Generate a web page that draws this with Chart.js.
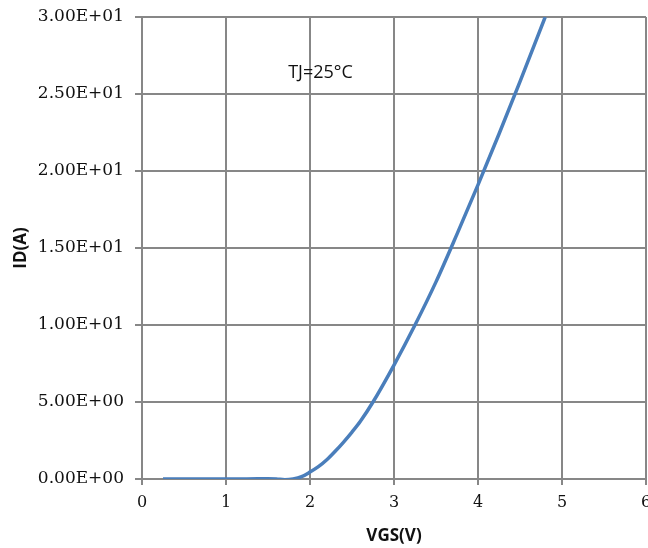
<!DOCTYPE html>
<html>
<head>
<meta charset="utf-8">
<script src="https://cdn.jsdelivr.net/npm/chart.js@4"></script>
<style>
  html, body { margin: 0; padding: 0; background: #fff; }
  #wrap { width: 648px; height: 548px; position: relative; }
</style>
</head>
<body>
<div id="wrap"><canvas id="idChart"></canvas></div>
<script>
// ID vs VGS transfer curve, TJ = 25°C
const vgs = [0.25, 0.5, 0.75, 1.0, 1.25, 1.5, 1.6, 1.7, 1.8, 1.9, 2.0, 2.1, 2.2, 2.3, 2.4, 2.5, 2.6, 2.75, 3.0, 3.25, 3.5, 3.75, 4.0, 4.25, 4.5, 4.8];
const id  = [0, 0, 0, 0, 0, 0.02, 0, -0.05, 0, 0.15, 0.45, 0.8, 1.25, 1.8, 2.4, 3.05, 3.75, 5.0, 7.4, 10.0, 12.8, 15.9, 19.1, 22.4, 25.8, 30.0];
const noteText = 'TJ=25°C';
const notePos = { x: 1.74, y: 26.4 };

const gridColor = '#878787';

function sci(v) {
    const [m, e] = v.toExponential(2).split('e');
    const sign = e[0] === '-' ? '-' : '+';
    const digits = e.replace(/[+-]/, '').padStart(2, '0');
    return m + 'E' + sign + digits;
}

// draws the "TJ=25°C" label inside the plot
const notePlugin = {
    id: 'note',
    afterDraw(chart) {
        const { ctx, scales } = chart;
        ctx.save();
        ctx.font = '18px "Open Sans", sans-serif';
        ctx.fillStyle = '#111';
        ctx.textBaseline = 'middle';
        ctx.fillText(noteText, scales.x.getPixelForValue(notePos.x), scales.y.getPixelForValue(notePos.y));
        ctx.restore();
    }
};

new Chart(document.getElementById('idChart'), {
    type: 'line',
    data: {
        datasets: [{
            data: vgs.map((x, i) => ({ x: x, y: id[i] })),
            borderColor: '#4a7ebb',
            borderWidth: 3.5,
            pointRadius: 0,
            cubicInterpolationMode: 'monotone',
            fill: false
        }]
    },
    options: {
        responsive: true,
        maintainAspectRatio: false,
        animation: false,
        layout: { padding: { top: 17, right: 2, left: 0, bottom: 0 } },
        plugins: {
            legend: { display: false },
            tooltip: { enabled: false }
        },
        scales: {
            x: {
                type: 'linear',
                min: 0,
                max: 6,
                ticks: {
                    stepSize: 1,
                    padding: 8,
                    color: '#111',
                    font: { family: '"DejaVu Serif", serif', size: 16 }
                },
                grid: { color: gridColor, lineWidth: 2, tickLength: 6 },
                border: { color: gridColor, width: 2 },
                title: {
                    display: true,
                    text: 'VGS(V)',
                    color: '#111',
                    font: { family: '"Open Sans", sans-serif', size: 17, weight: 'bold' },
                    padding: { top: 4, bottom: 2 }
                },
                afterFit(scale) {
                    scale.height = 69;
                    scale.paddingLeft = 0;
                    scale.paddingRight = 0;
                }
            },
            y: {
                min: 0,
                max: 30,
                ticks: {
                    stepSize: 5,
                    padding: 11,
                    color: '#111',
                    font: { family: '"DejaVu Serif", serif', size: 17 },
                    callback: (v) => sci(v)
                },
                grid: { color: gridColor, lineWidth: 2, tickLength: 7 },
                border: { color: gridColor, width: 2 },
                title: {
                    display: true,
                    text: 'ID(A)',
                    color: '#111',
                    font: { family: '"Open Sans", sans-serif', size: 17, weight: 'bold' },
                    padding: { top: 11, bottom: 0 }
                },
                afterFit(scale) {
                    scale.width = 142;
                    scale.paddingTop = 0;
                }
            }
        }
    },
    plugins: [notePlugin]
});
</script>
</body>
</html>
